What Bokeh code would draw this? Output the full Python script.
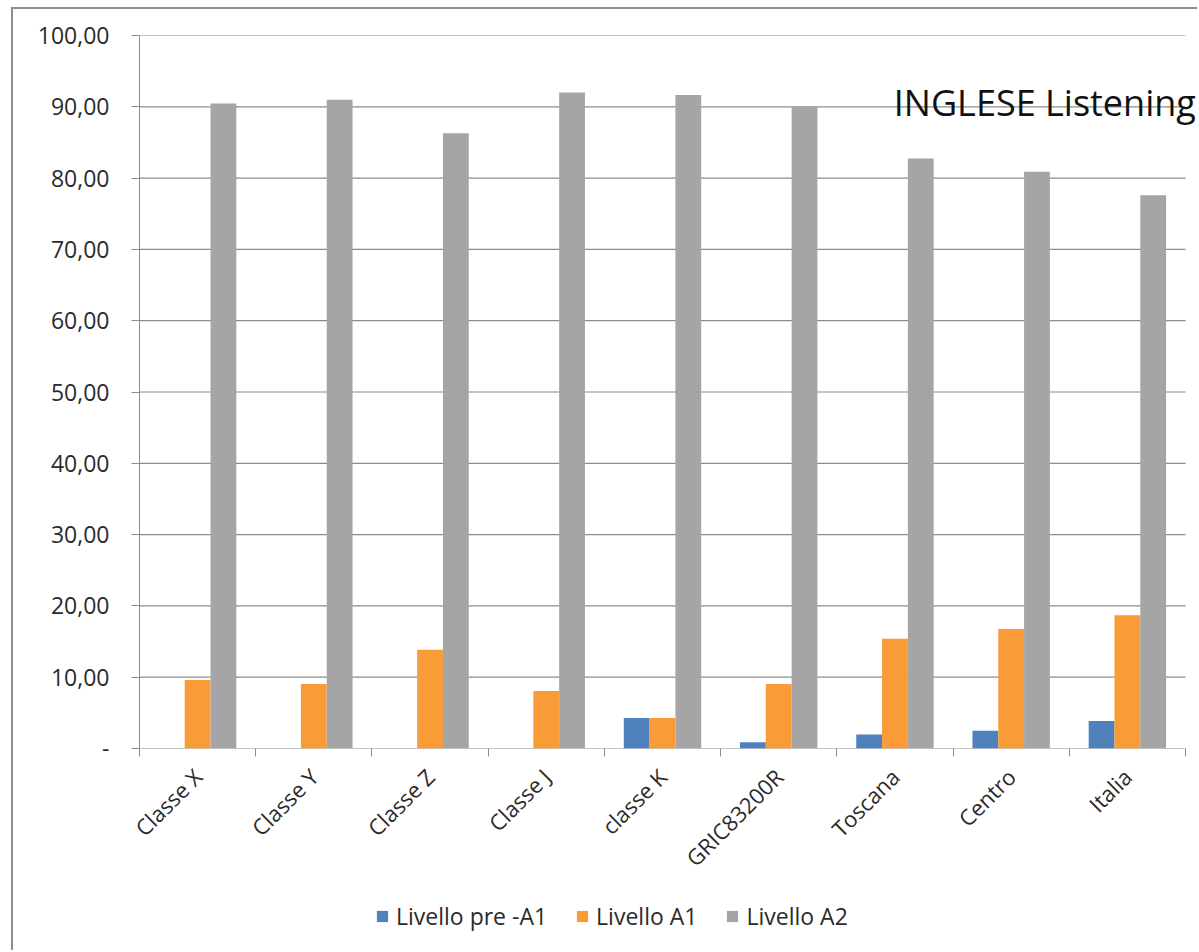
import numpy as np
from bokeh.plotting import figure
from bokeh.layouts import column
from bokeh.models import (Range1d, FixedTicker, CustomJSTickFormatter, Legend,
                          LegendItem, Label)
from bokeh.embed import file_html
from bokeh.resources import INLINE

categories = ["Classe X", "Classe Y", "Classe Z", "Classe J", "classe K",
              "GRIC83200R", "Toscana", "Centro", "Italia"]
pre_a1 = [0.0, 0.0, 0.0, 0.0, 4.27, 0.89, 1.97, 2.49, 3.85]
a1 = [9.62, 9.06, 13.85, 8.07, 4.27, 9.06, 15.40, 16.76, 18.69]
a2 = [90.46, 91.00, 86.30, 92.00, 91.65, 90.05, 82.75, 80.90, 77.60]
series_names = ["Livello pre -A1", "Livello A1", "Livello A2"]
colors = ["#4F81BD", "#F99B37", "#A5A5A5"]
y_ticks = [0, 10, 20, 30, 40, 50, 60, 70, 80, 90, 100]
title_text = "INGLESE Listening"

FONT = "Open Sans"
TXT = "#2b2b2b"
GRID = "#8c8c8c"
BORDER = "2px solid #8d8d8d"

n = len(categories)
series = [pre_a1, a1, a2]
# frame runs to the window edge; categories occupy 1046 of its 1060 px
x_end = n * 1060.0 / 1046.0
p = figure(width=1186, height=885, output_backend="svg", toolbar_location=None,
           x_range=Range1d(0, x_end), y_range=Range1d(0, 100),
           min_border_left=126, min_border_top=26, min_border_right=0,
           min_border_bottom=146, outline_line_color=None,
           margin=(7, 0, 0, 11),
           styles={"border-top": BORDER, "border-left": BORDER})

# horizontal gridlines (and the category axis line at 0) spanning the categories
p.segment(x0=[0] * len(y_ticks), x1=[n] * len(y_ticks), y0=y_ticks, y1=y_ticks,
          line_color=GRID, line_width=1.2)

bw = 0.222
centers = np.arange(n) + 0.5
for k, (vals, col) in enumerate(zip(series, colors)):
    p.vbar(x=centers + (k - 1) * bw, top=vals, width=bw, bottom=0,
           fill_color=col, line_color=None)

# y axis
p.yaxis.ticker = FixedTicker(ticks=y_ticks)
p.yaxis.formatter = CustomJSTickFormatter(
    code="return tick == 0 ? '-' : tick.toFixed(2).replace('.', ',');")
p.yaxis.axis_line_color = GRID
p.yaxis.major_tick_line_color = GRID
p.yaxis.major_tick_out = 8
p.yaxis.major_tick_in = 0
p.yaxis.minor_tick_line_color = None
p.yaxis.major_label_standoff = 22
p.yaxis.major_label_text_font = FONT
p.yaxis.major_label_text_font_size = "23px"
p.yaxis.major_label_text_color = TXT

# x axis
p.xaxis.ticker = FixedTicker(ticks=list(centers), minor_ticks=list(range(n + 1)))
p.xaxis.formatter = CustomJSTickFormatter(
    args=dict(names=categories), code="return names[Math.floor(tick)];")
p.xaxis.axis_line_color = None
p.xaxis.major_tick_line_color = None
p.xaxis.major_tick_out = 8
p.xaxis.minor_tick_line_color = GRID
p.xaxis.minor_tick_out = 8
p.xaxis.minor_tick_in = 0
p.xaxis.major_label_orientation = np.pi / 4
p.xaxis.major_label_standoff = 16
p.xaxis.major_label_text_font = FONT
p.xaxis.major_label_text_font_size = "22px"
p.xaxis.major_label_text_color = TXT

p.xgrid.grid_line_color = None
p.ygrid.grid_line_color = None

p.add_layout(Label(x=6.49, y=90.55, text=title_text, text_font=FONT,
                   text_font_size="36px", text_color="#111111",
                   text_baseline="alphabetic"))

# legend strip below the chart (its bars lie outside its visible range)
lg = figure(width=1186, height=58, output_backend="svg", toolbar_location=None,
            x_range=Range1d(-20, -19), y_range=Range1d(0, 1),
            x_axis_location=None, y_axis_location=None,
            min_border=0, outline_line_color=None,
            margin=(0, 0, 0, 11), styles={"border-left": BORDER})
lg.grid.visible = False
items = []
for k, (nm, vals, col) in enumerate(zip(series_names, series, colors)):
    r = lg.vbar(x=centers + (k - 1) * bw, top=vals, width=bw,
                fill_color=col, line_color=None)
    items.append(LegendItem(label=nm, renderers=[r]))
legend = Legend(items=items, orientation="horizontal", location=(236, 18),
                glyph_width=14, glyph_height=14, label_standoff=7, spacing=28,
                padding=0, margin=0, border_line_color=None,
                background_fill_alpha=0,
                label_text_font=FONT, label_text_font_size="23px",
                label_text_color=TXT)
lg.add_layout(legend)

layout = column(p, lg, spacing=0)
open("out.html", "w").write(file_html(layout, INLINE))
